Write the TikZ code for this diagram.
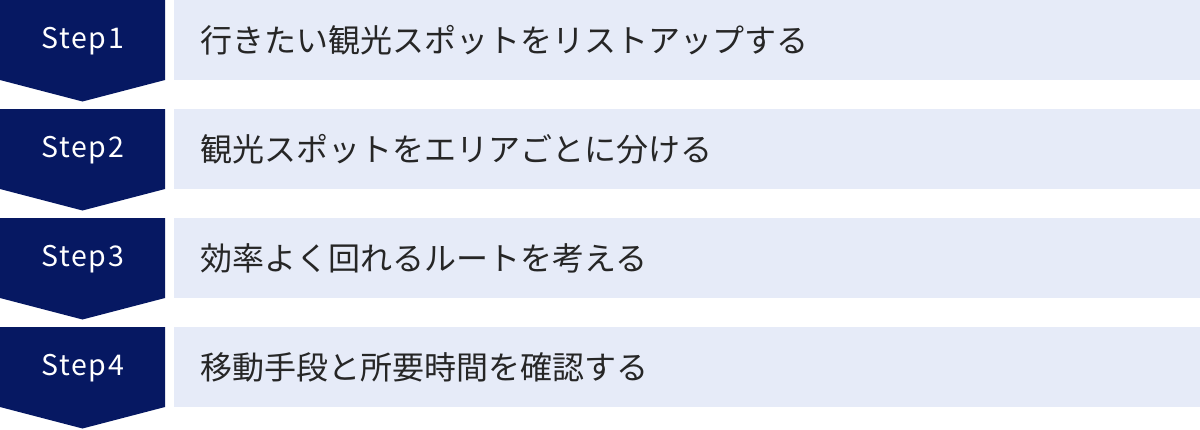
\documentclass[tikz,border=0pt]{standalone}
\usepackage{fontspec}
\setmainfont{Noto Sans CJK JP}
\definecolor{stepnavy}{HTML}{061862}
\definecolor{steplight}{HTML}{E6EBF8}
\tikzset{
  steplabel/.style={text=white,inner sep=0pt,font=\fontsize{28.5}{32}\selectfont\addfontfeature{LetterSpace=6}},
  steptext/.style={text=black!85,anchor=west,inner sep=0pt,font=\fontsize{32}{36}\selectfont}
}
\begin{document}
\begin{tikzpicture}[x=1pt,y=-1pt]
  \useasboundingbox (0,0) rectangle (1200,429);
  \foreach \n/\txt [count=\i from 0] in {1/行きたい観光スポットをリストアップする,
      2/観光スポットをエリアごとに分ける,
      3/効率よく回れるルートを考える,
      4/移動手段と所要時間を確認する}{
    \pgfmathsetmacro{\ytop}{109*\i}
    \fill[stepnavy] (0,\ytop) -- (165,\ytop) -- (165,\ytop+80) -- (82.5,\ytop+101.5) -- (0,\ytop+80) -- cycle;
    \fill[steplight] (174,\ytop) rectangle (1200,\ytop+80);
    \node[steplabel] (step\n) at (82.5,\ytop+41.5) {Step\n};
    \node[steptext] (task\n) at (200,\ytop+40.5) {\txt};
  }
\end{tikzpicture}
\end{document}
